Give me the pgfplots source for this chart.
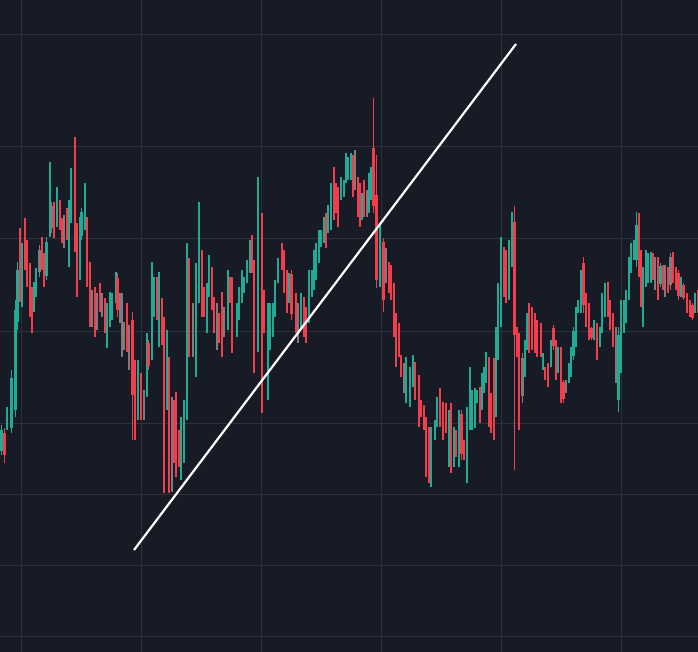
\documentclass[border=0pt]{standalone}
\usepackage{pgfplots}
\usepackage{pgfplotstable}
\pgfplotsset{compat=1.18}
\definecolor{bgc}{RGB}{23,27,37}
\definecolor{gridc}{RGB}{44,48,59}
\definecolor{cgreen}{RGB}{34,171,148}
\definecolor{cred}{RGB}{242,62,76}
\definecolor{cgrey}{RGB}{130,122,126}
\pgfplotsset{
  wick/.style={line width=1.5pt, line cap=butt, mark=none, quiver={u=0, v=\thisrow{l}-\thisrow{h}}},
  body/.style={line width=2.7pt, line cap=butt, mark=none, quiver={u=0, v=\thisrow{c}-\thisrow{o}}},
}
% columns: x, high, low, open, close (pixel rows, top = 0)
\pgfplotstableread{
x h l o c
1.5 425 455 451 430
7 407 430 427 411
11.5 370 433 428 378
15.5 300 417 410 310
17.5 262 330 322 270
22 243 307 300 250
34 282 312 308 287
36 268 297 293 272
46.5 237 280 276 242
50 162 237 230 200
57 187 227 222 195
69 200 267 258 212
71 168 223 216 178
80 217 280 272 225
81.5 208 240 236 212
85 183 230 225 190
107 303 348 340 308
110 292 327 322 296
112 293 320 316 297
116 272 303 299 276
138 360 420 412 368
147 333 397 390 340
152 262 360 350 275
154 277 317 312 282
159 272 347 338 280
167 330 410 400 340
181 417 480 472 425
184 400 463 455 408
187 243 420 410 260
196 263 377 365 272
199 202 303 295 240
207 283 333 327 288
209 255 297 292 260
228 270 330 323 276
237 303 337 333 307
239 287 320 316 291
242 270 303 299 274
244 277 293 291 280
247 260 283 281 263
250 240 273 269 244
258 177 352 330 215
268 303 400 390 310
270 303 350 345 307
273 303 337 333 307
275 280 317 312 285
278 258 283 280 261
289 273 303 299 277
301 293 330 325 297
309 270 323 317 275
312 270 297 294 273
314 250 290 285 254
316 243 280 276 247
319 230 263 259 234
321 230 247 245 232
324 217 243 240 220
328 205 233 230 208
331 183 230 225 188
341 177 200 197 180
344 180 197 195 183
346 153 183 180 157
348 157 180 177 160
351 153 180 177 156
362 193 220 217 196
369 173 213 209 177
371 167 200 196 170
380 223 287 270 228
406 357 403 396 362
410 367 407 402 372
413 355 387 383 359
431 427 487 478 434
435 420 440 437 423
437 397 427 423 401
449 410 467 458 418
454 427 467 462 432
459 410 467 460 416
467 407 483 474 415
470 367 430 422 373
472 390 430 425 395
475 388 428 422 393
477 390 403 401 392
482 373 410 405 377
484 367 393 390 370
486 352 383 379 356
496 327 417 405 335
498 283 360 352 290
501 237 327 318 245
509 240 300 294 246
512 212 267 260 218
525 340 377 373 344
527 313 350 346 317
543 353 370 368 355
551 340 367 364 343
558 347 373 370 350
569 363 383 380 366
571 347 377 373 351
573.5 327 360 356 331
576 307 347 342 312
578 300 313 312 302
581 270 313 307 276
594 320 340 337 323
600 327 347 344 330
602 293 333 328 298
605 283 317 313 287
618.5 327 412 400 335
621 300 373 365 306
624 300 333 329 304
626 290 323 319 294
629 257 300 295 262
631 243 273 270 246
634 240 260 258 243
636.5 212 267 260 225
643 267 327 318 272
646 250 287 283 254
648 253 283 280 256
651 252 283 279 255
660.5 263 287 284 266
681 277 297 294 280
695 293 313 310 296
}\gtab
\pgfplotstableread{
x h l o c
4.5 428 463 433 455
20 228 302 236 292
25 218 270 222 262
27 240 287 245 280
30 263 317 268 310
32 287 333 292 325
42 237 270 241 264
44 253 287 257 282
54 202 238 206 232
60 200 230 204 225
62 218 243 221 239
67 208 240 212 234
75 137 252 170 240
77 223 297 228 290
87 217 287 222 280
90 262 327 267 318
95 287 337 292 330
100 283 312 286 308
105 298 333 302 328
117.5 273 317 278 310
127 303 352 308 345
132.5 312 440 320 395
135 360 440 366 430
141 373 420 378 414
148.5 340 370 343 366
157 277 320 282 314
162 298 345 303 338
164 317 493 330 470
169 357 493 365 480
174 400 463 405 455
176 392 477 400 468
179 430 467 434 462
189 258 357 265 345
202 250 317 255 310
204 287 317 290 313
212 267 310 271 305
214 297 333 300 328
219 313 343 316 339
222 292 357 298 348
230 277 303 280 300
232 277 353 282 345
252 235 273 239 268
254 260 373 268 360
262 213 413 225 350
264 290 333 294 328
282 243 270 246 266
284 250 293 254 288
287 270 313 274 308
291.5 270 320 274 314
296 293 333 297 328
304 297 337 301 332
306 307 343 311 339
326 213 248 217 243
334 167 220 175 213
336 183 213 186 209
338 187 227 191 222
353 155 197 159 192
358 177 217 181 212
360 183 227 188 222
364 180 217 184 212
373.5 98 213 148 206
376.5 155 288 195 280
383.5 238 312 242 300
389 262 293 265 288
391 265 300 268 295
394 283 337 288 330
396 313 367 318 360
399 323 357 327 352
401 355 377 357 374
415 362 400 366 395
419 375 427 380 420
421 400 417 402 415
424 405 430 408 427
426 417 477 422 468
429 427 483 432 476
440 388 427 392 422
443 402 440 406 434
446 403 433 406 429
451 403 473 410 465
456 430 457 433 454
461.5 410 460 414 454
464 440 460 442 457
480 387 423 390 418
489 357 427 362 418
491 393 433 397 428
494 358 440 365 430
504 247 297 251 292
506 250 303 254 297
514.5 206 470 222 335
517 327 357 330 353
519 333 430 340 400
529 303 353 307 347
532 307 350 311 344
535 313 353 317 348
537 320 357 324 351
541 323 357 327 352
545 367 380 368 378
548 363 387 366 383
553.5 325 350 328 346
556 340 380 344 374
561 347 403 352 395
563.5 380 403 382 399
583.5 257 313 263 305
586 293 327 297 322
589 303 340 307 335
591.5 327 340 328 338
597 323 360 327 354
608 282 317 286 312
610 300 330 303 326
613 313 347 317 342
639 213 277 225 270
641 250 307 255 300
653 253 280 256 276
658 257 300 261 294
663 265 290 268 286
668 267 293 270 289
673 252 283 255 279
676 267 290 269 287
678.5 270 300 273 296
683.5 283 300 285 298
687 293 313 295 310
690 300 317 302 315
692.5 303 320 305 318
698 290 313 293 309
}\rtab
\pgfplotstableread{
x h l o c
39.5 245 277 272 250
51.5 202 233 206 228
64 215 248 220 243
92 290 327 294 322
97 293 330 298 325
102 293 317 296 313
120 293 323 297 318
122 293 357 300 348
124 322 350 326 346
129 325 370 330 364
144 390 420 394 416
172 397 492 405 480
193 303 357 308 350
217 303 350 308 343
224 307 337 311 333
298 303 343 307 338
355 150 190 155 185
367 190 217 193 214
386 248 283 252 278
404 363 393 366 389
522.5 353 403 358 396
566 380 393 382 391
616 327 383 332 376
655 257 290 260 286
665 265 297 268 292
670.5 253 290 257 285
}\ntab
\begin{document}
\begin{tikzpicture}
\begin{axis}[
  width=698pt, height=652pt, scale only axis,
  xmin=0, xmax=698, ymin=0, ymax=652, y dir=reverse,
  axis background/.style={fill=bgc},
  axis line style={draw=none},
  xtick={21.5,141.6,261.8,381,501,621},
  ytick={35,147,239,331,423,494,565,636},
  xticklabels={}, yticklabels={},
  major tick length=0pt,
  grid=major,
  major grid style={color=gridc, line width=1pt},
]
\addplot[cgrey, wick] table[x=x, y=h] \ntab;
\addplot[cgrey, body] table[x=x, y=o] \ntab;
\addplot[cgreen, wick] table[x=x, y=h] \gtab;
\addplot[cgreen, body] table[x=x, y=o] \gtab;
\addplot[cred, wick] table[x=x, y=h] \rtab;
\addplot[cred, body] table[x=x, y=o] \rtab;
\addplot[white, line width=2.2pt] coordinates {(134,550) (516,44)};
\end{axis}
\pgfresetboundingbox
\path[use as bounding box] (current axis.south west) rectangle (current axis.north east);
\end{tikzpicture}
\end{document}
